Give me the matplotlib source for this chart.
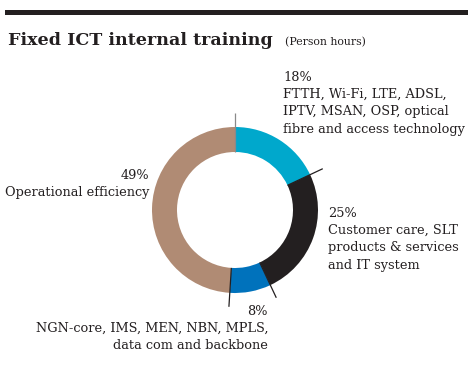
import matplotlib
matplotlib.use("Agg")
import matplotlib.pyplot as plt
import numpy as np

categories = ["FTTH, Wi-Fi, LTE, ADSL,\nIPTV, MSAN, OSP, optical\nfibre and access technology",
              "Customer care, SLT\nproducts & services\nand IT system",
              "NGN-core, IMS, MEN, NBN, MPLS,\ndata com and backbone",
              "Operational efficiency"]
values = [18, 25, 8, 49]
pct_labels = ["18%", "25%", "8%", "49%"]
colors = ["#00A8CC", "#231F20", "#0072BC", "#B08B74"]
title = "Fixed ICT internal training"
subtitle = "(Person hours)"

W, H = 471, 367
fig = plt.figure(figsize=(W / 100, H / 100), dpi=100)
ax = fig.add_axes([0, 0, 1, 1])

def Y(ypx):
    return H - ypx

cx, cy = 235, Y(210)
R, ring = 83, 25
ax.pie(values, colors=colors, startangle=90, counterclock=False,
       center=(cx, cy), radius=R, wedgeprops=dict(width=ring, linewidth=0),
       frame=True)
ax.set_xlim(0, W)
ax.set_ylim(0, H)
ax.set_aspect("auto")
ax.axis("off")

# leader lines at wedge boundaries
cum = np.concatenate([[0], np.cumsum(values)]) / sum(values)
for i, f in enumerate(cum[:-1]):
    ang = np.deg2rad(90 - 360 * f)
    r0, r1 = R - ring, 97
    col = "#8a8a8a" if i == 0 else "#231F20"
    ax.plot([cx + r0 * np.cos(ang), cx + r1 * np.cos(ang)],
            [cy + r0 * np.sin(ang), cy + r1 * np.sin(ang)],
            color=col, lw=0.9, solid_capstyle="butt")

# top bar
ax.fill_between([5, 468], Y(15), Y(10), color="#231F20", lw=0)

serif = ["DejaVu Serif"]
ax.text(8, Y(45), title, fontsize=12.6, fontweight="bold", family=serif,
        va="baseline", ha="left", color="#231F20")
ax.text(285, Y(45), subtitle, fontsize=7.8, family=serif, va="baseline", ha="left", color="#231F20")

fs = 9.3
ls = 1.42
txt = dict(fontsize=fs, family=serif, color="#231F20", linespacing=ls)
# 18%
ax.text(283, Y(71), pct_labels[0] + "\n" + categories[0], va="top", ha="left", **txt)
# 25%
ax.text(328, Y(207), pct_labels[1] + "\n" + categories[1], va="top", ha="left", **txt)
# 8%
ax.text(268, Y(305), pct_labels[2] + "\n" + categories[2], va="top", ha="right",
        multialignment="right", **txt)
# 49%
ax.text(149, Y(169), pct_labels[3] + "\n" + categories[3], va="top", ha="right",
        multialignment="right", **txt)

fig.savefig("out.png", dpi=100)
